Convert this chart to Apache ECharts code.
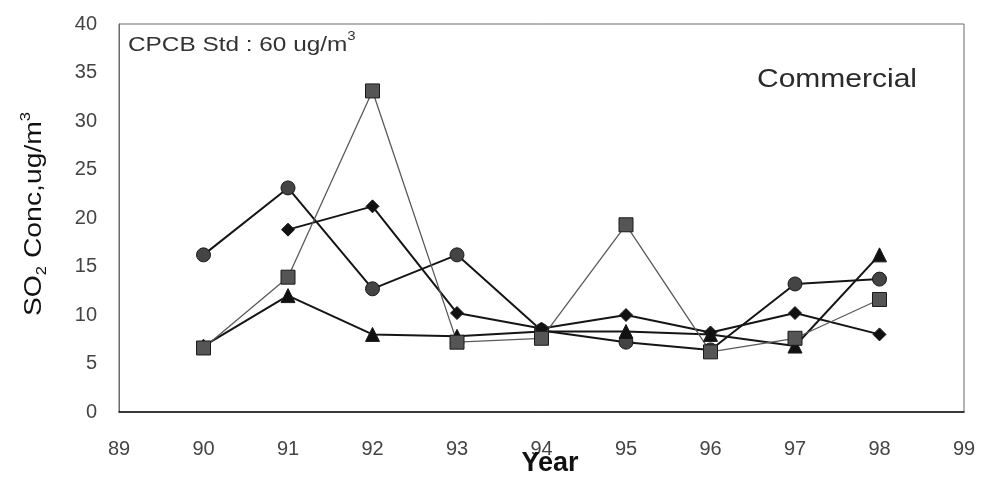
<!DOCTYPE html>
<html>
<head>
<meta charset="utf-8">
<script src="https://cdn.jsdelivr.net/npm/echarts@6/dist/echarts.min.js"></script>
<style>
  html, body { margin: 0; padding: 0; background: #ffffff; }
  #chart { width: 981px; height: 479px; }
</style>
</head>
<body>
<div id="chart"></div>
<script>
// Annual mean SO2 at commercial monitoring sites, 1990-1998
const years = [90, 91, 92, 93, 94, 95, 96, 97, 98];
const xTicks = [89, 99];
const yTicks = [0, 40, 5];

const siteCircle   = [16.2, 23.1, 12.7, 16.2, 8.4, 7.2, 6.4, 13.2, 13.7];
const siteDiamond  = [null, 18.8, 21.2, 10.2, 8.6, 10.0, 8.2, 10.2, 8.0];
const siteTriangle = [6.8, 12.0, 8.0, 7.8, 8.3, 8.3, 8.0, 6.8, 16.2];
const siteSquare   = [6.6, 13.9, 33.1, 7.2, 7.6, 19.3, 6.2, 7.6, 11.6];

const pairs = vals => years.map((y, i) => [y, vals[i]]).filter(p => p[1] !== null);

const FONT = '"Liberation Sans", Arial, sans-serif';

function lineSeries(name, vals, symbol, size, fill, lineColor, lineWidth) {
  return {
    name: name,
    type: 'line',
    data: pairs(vals),
    symbol: symbol,
    symbolSize: size,
    showAllSymbol: true,
    connectNulls: false,
    animation: false,
    lineStyle: { color: lineColor, width: lineWidth },
    itemStyle: { color: fill, borderColor: '#1a1a1a', borderWidth: 1, opacity: 1 },
    emphasis: { disabled: true }
  };
}

const chart = echarts.init(document.getElementById('chart'), null, { renderer: 'canvas' });

chart.setOption({
  backgroundColor: '#ffffff',
  animation: false,
  grid: {
    left: 119, right: 17, top: 24, bottom: 67,
    outerBoundsMode: 'none',
    containLabel: false,
    show: true, borderColor: '#6a6a6a', borderWidth: 1, backgroundColor: 'transparent'
  },
  xAxis: {
    type: 'value',
    min: xTicks[0], max: xTicks[1], interval: 1,
    axisLine: { show: true, lineStyle: { color: '#111', width: 1.5 } },
    axisTick: { show: false },
    splitLine: { show: false },
    axisLabel: { fontFamily: FONT, fontSize: 20, color: '#444', margin: 27 }
  },
  yAxis: {
    type: 'value',
    min: yTicks[0], max: yTicks[1], interval: yTicks[2],
    axisLine: { show: true, lineStyle: { color: '#6a6a6a', width: 1 } },
    axisTick: { show: false },
    splitLine: { show: false },
    axisLabel: { fontFamily: FONT, fontSize: 20, color: '#444', margin: 22 }
  },
  graphic: [
    {
      type: 'text', left: 128, top: 30, scaleX: 1.16, z: 10,
      style: {
        text: '{a|CPCB Std : 60 ug/m}{s|3}',
        fill: '#333',
        rich: {
          a: { fontFamily: FONT, fontSize: 21, lineHeight: 26, fill: '#333', verticalAlign: 'bottom' },
          s: { fontFamily: FONT, fontSize: 13, lineHeight: 26, fill: '#333', verticalAlign: 'top' }
        }
      }
    },
    {
      type: 'text', x: 757, y: 80, scaleX: 1.2, z: 10,
      style: {
        text: 'Commercial', fontFamily: FONT, fontSize: 25, fill: '#2a2a2a',
        textAlign: 'left', textVerticalAlign: 'middle'
      }
    },
    {
      // x-axis title
      type: 'text', x: 550, y: 464, z: 10,
      style: {
        text: 'Year', fontFamily: FONT, fontSize: 27, fontWeight: 'bold', fill: '#111',
        textAlign: 'center', textVerticalAlign: 'middle'
      }
    },
    {
      // y-axis title
      type: 'text', x: 34, y: 214, rotation: Math.PI / 2, scaleX: 1.18, z: 10,
      style: {
        text: '{a|SO}{b|2}{a| Conc,ug/m}{s|3}',
        textAlign: 'center', textVerticalAlign: 'middle',
        rich: {
          a: { fontFamily: FONT, fontSize: 24, lineHeight: 30, fill: '#111', verticalAlign: 'middle' },
          b: { fontFamily: FONT, fontSize: 14, lineHeight: 30, fill: '#111', verticalAlign: 'bottom' },
          s: { fontFamily: FONT, fontSize: 14, lineHeight: 30, fill: '#111', verticalAlign: 'top' }
        }
      }
    }
  ],
  series: [
    lineSeries('Circle site', siteCircle, 'circle', 14, '#444444', '#151515', 2),
    lineSeries('Diamond site', siteDiamond, 'diamond', 13, '#111111', '#151515', 2),
    lineSeries('Triangle site', siteTriangle, 'triangle', 14, '#111111', '#151515', 2),
    lineSeries('Square site', siteSquare, 'rect', 14, '#555555', '#5a5a5a', 1.3)
  ]
});
</script>
</body>
</html>
